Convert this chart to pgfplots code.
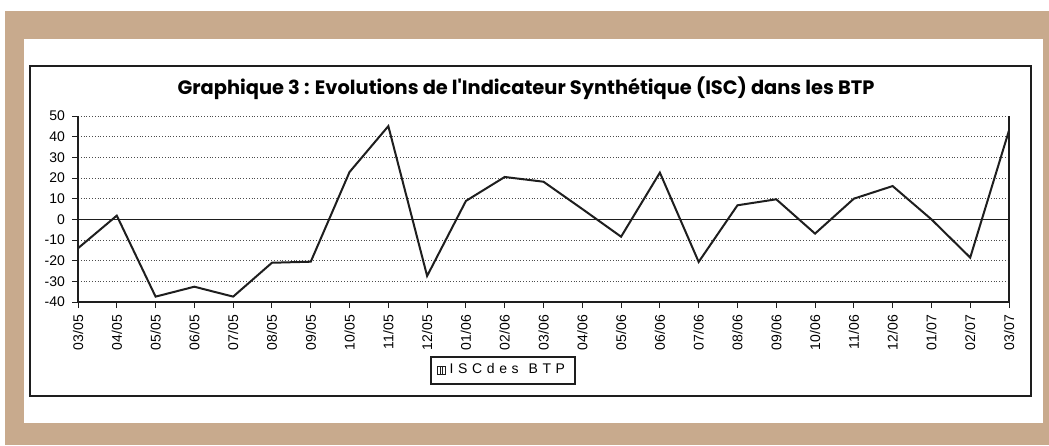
\documentclass[border=0pt]{standalone}
\usepackage{fontspec}
\setmainfont{Liberation Sans}
\newfontfamily\titlefont{Poppins}
\usepackage{pgfplots}
\pgfplotsset{compat=1.18}
\definecolor{tanframe}{RGB}{200,170,141}
\definecolor{ink}{RGB}{30,30,30}
\newcommand\ls{\hspace{2.3pt}}
\begin{document}
\begin{tikzpicture}[x=0.5pt,y=-0.5pt]
% frame, in pixel units of the reference
\fill[white] (0,0) rectangle (1049,445);
\fill[tanframe] (5,11) rectangle (1049,445);
\fill[white] (24,39) rectangle (1043,423);
\draw[ink, line width=1pt] (29.5,66) rectangle (1031,396);
\node[font=\titlefont\bfseries\fontsize{9.7}{11}\selectfont] at (526,88)
  {Graphique 3 : Evolutions de l'Indicateur Synthétique (ISC) dans les BTP};
\coordinate (axsw) at (78,302);
\begin{axis}[at={(axsw)}, anchor=south west, scale only axis,
  width=465.5pt, height=93pt,
  xmin=0, xmax=24, ymin=-40, ymax=50,
  xtick={0,...,24},
  xticklabels={03/05,04/05,05/05,06/05,07/05,08/05,09/05,10/05,11/05,12/05,
    01/06,02/06,03/06,04/06,05/06,06/06,07/06,08/06,09/06,10/06,11/06,12/06,
    01/07,02/07,03/07},
  ytick={-40,-30,...,50},
  yticklabels={-40,-30,-20,-10,0,10,20,30,40,50},
  axis x line*=bottom, axis y line*=box, ytick pos=left,
  x axis line style={-, line width=1pt, ink},
  y axis line style={-, line width=1pt, ink},
  tick align=outside, major tick length=3pt,
  tick style={ink, line width=0.5pt},
  ymajorgrids, major grid style={densely dotted, black!70, line width=0.5pt},
  extra y ticks={0}, extra y tick labels={},
  extra y tick style={grid=major, major grid style={solid, ink, line width=0.8pt}},
  xticklabel style={rotate=90, anchor=east, font=\fontsize{7}{8}\selectfont},
  yticklabel style={font=\fontsize{7}{8}\selectfont},
  legend style={at={(0.4565,-0.366)}, anchor=center, draw=ink, line width=1pt,
    font=\fontsize{7}{8}\selectfont, inner xsep=3pt, inner ysep=1.5pt},
]
\addplot[ink, line width=1pt,
  legend image code/.code={
    \draw[line width=0.4pt] (0pt,-2pt) rectangle (4pt,2pt);
    \draw[line width=0.4pt] (1.33pt,-2pt)--(1.33pt,2pt) (2.67pt,-2pt)--(2.67pt,2pt);}]
  coordinates {
  (0,-14) (1,1.8) (2,-37.4) (3,-32.6) (4,-37.4) (5,-21) (6,-20.5) (7,22.9)
  (8,45.1) (9,-27.4) (10,8.9) (11,20.5) (12,18.2) (13,5) (14,-8.4) (15,22.6)
  (16,-20.6) (17,6.8) (18,9.7) (19,-6.9) (20,10) (21,16.1) (22,0) (23,-18.5)
  (24,43)};
\addlegendentry{I\ls S\ls C\ls d\ls e\ls s\hspace{5pt}B\ls T\ls P}
\end{axis}
\end{tikzpicture}
\end{document}
